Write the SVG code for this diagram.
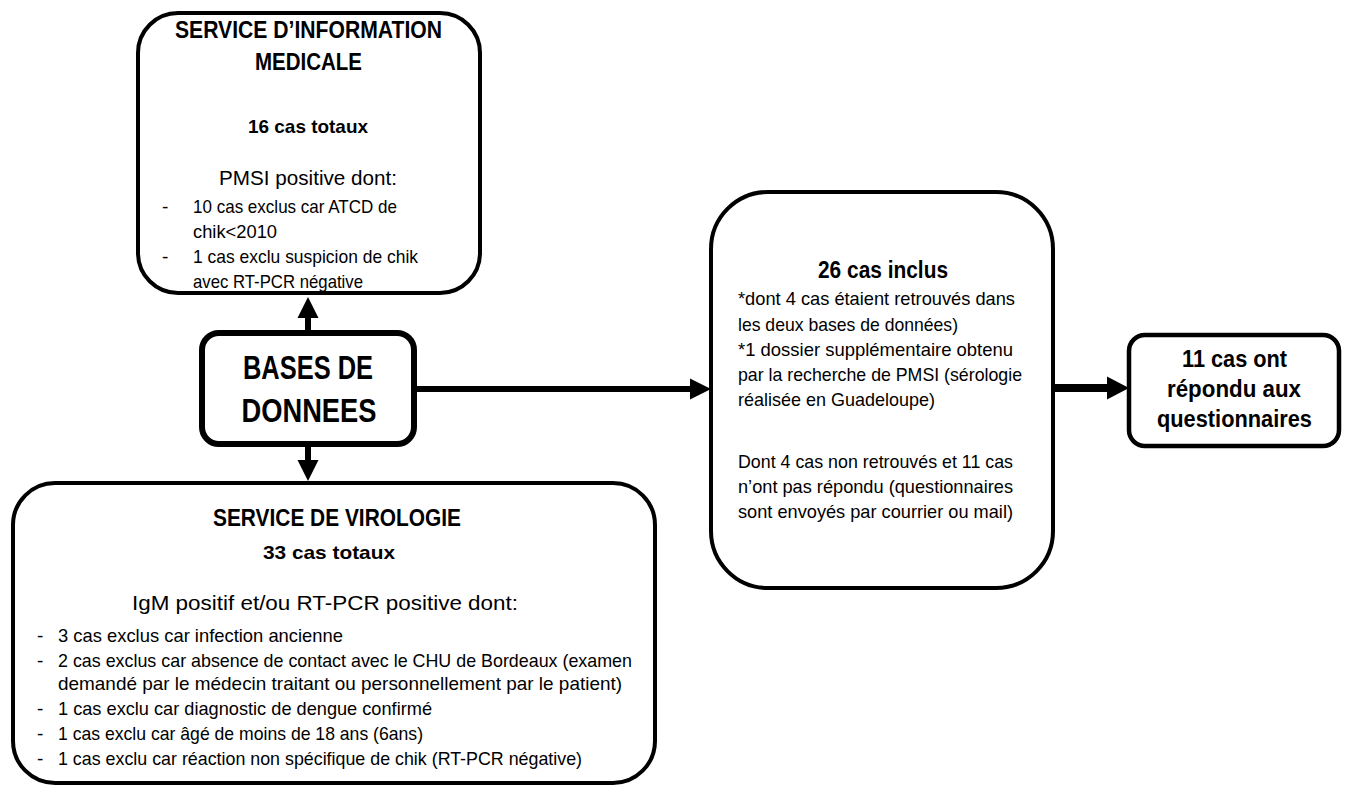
<svg xmlns="http://www.w3.org/2000/svg" width="1346" height="785" viewBox="0 0 1346 785">
<style>
  text { font-family: "Liberation Sans", Arial, sans-serif; fill: #000; }
  .c { text-anchor: middle; }
  .box { fill: #fff; stroke: #000; stroke-width: 4; }
  .thick { stroke-width: 6; }
  .body { font-size: 19px; }
  .lead { font-size: 21px; }
  .h { font-size: 23px; font-weight: bold; }
  .sub { font-size: 19px; font-weight: bold; }
  .big { font-size: 33px; font-weight: bold; }
  .conn { fill: none; stroke: #000; stroke-width: 6; }
</style>
<defs>
  <marker id="head" markerUnits="userSpaceOnUse" viewBox="0 -11 21 22" refX="0" refY="0" markerWidth="21" markerHeight="22" orient="auto">
    <path d="M0,-10.5 L21,0 L0,10.5 z" fill="#000"/>
  </marker>
  <marker id="headL" markerUnits="userSpaceOnUse" viewBox="0 -12 22 24" refX="0" refY="0" markerWidth="22" markerHeight="24" orient="auto">
    <path d="M0,-11.5 L22,0 L0,11.5 z" fill="#000"/>
  </marker>
</defs>

<rect width="1346" height="785" fill="#fff"/>

<g id="connectors">
  <path class="conn" d="M308,333 L308,318" marker-end="url(#head)"/>
  <path class="conn" d="M308,444 L308,460" marker-end="url(#head)"/>
  <path class="conn" d="M414,389 L690,389" marker-end="url(#head)"/>
  <path class="conn" style="stroke-width:8" d="M1053,388 L1107,388" marker-end="url(#headL)"/>
</g>

<g id="node-sim">
  <rect class="box" x="138" y="13" width="342" height="280" rx="40" ry="40"/>
  <text class="h c" x="308.5" y="38" textLength="267" lengthAdjust="spacingAndGlyphs">SERVICE D’INFORMATION</text>
  <text class="h c" x="308.5" y="70" textLength="107" lengthAdjust="spacingAndGlyphs">MEDICALE</text>
  <text class="sub c" x="308" y="133" textLength="120" lengthAdjust="spacingAndGlyphs">16 cas totaux</text>
  <text class="lead c" x="308" y="185" textLength="178" lengthAdjust="spacingAndGlyphs">PMSI positive dont:</text>
  <text class="body" x="162" y="213">-</text>
  <text class="body" x="193" y="213" textLength="204" lengthAdjust="spacingAndGlyphs">10 cas exclus car ATCD de</text>
  <text class="body" x="193" y="238" textLength="84" lengthAdjust="spacingAndGlyphs">chik&lt;2010</text>
  <text class="body" x="162" y="263">-</text>
  <text class="body" x="193" y="263" textLength="225" lengthAdjust="spacingAndGlyphs">1 cas exclu suspicion de chik</text>
  <text class="body" x="193" y="288" textLength="170" lengthAdjust="spacingAndGlyphs">avec RT-PCR négative</text>
</g>

<g id="node-bases">
  <rect class="box thick" x="202" y="333" width="212" height="111" rx="17" ry="17"/>
  <text class="big c" x="308" y="379" textLength="130" lengthAdjust="spacingAndGlyphs">BASES DE</text>
  <text class="big c" x="309" y="422" textLength="135" lengthAdjust="spacingAndGlyphs">DONNEES</text>
</g>

<g id="node-virologie">
  <rect class="box" x="13" y="483" width="642" height="300" rx="42" ry="42"/>
  <text class="h c" x="337" y="526" textLength="248" lengthAdjust="spacingAndGlyphs">SERVICE DE VIROLOGIE</text>
  <text class="sub c" x="329" y="559" textLength="132" lengthAdjust="spacingAndGlyphs">33 cas totaux</text>
  <text class="lead c" x="325" y="610" textLength="386" lengthAdjust="spacingAndGlyphs">IgM positif et/ou RT-PCR positive dont:</text>
  <text class="body" x="37" y="642">-</text>
  <text class="body" x="58" y="642" textLength="285" lengthAdjust="spacingAndGlyphs">3 cas exclus car infection ancienne</text>
  <text class="body" x="37" y="667">-</text>
  <text class="body" x="58" y="667" textLength="574" lengthAdjust="spacingAndGlyphs">2 cas exclus car absence de contact avec le CHU de Bordeaux (examen</text>
  <text class="body" x="58" y="690" textLength="564" lengthAdjust="spacingAndGlyphs">demandé par le médecin traitant ou personnellement par le patient)</text>
  <text class="body" x="37" y="715">-</text>
  <text class="body" x="58" y="715" textLength="374" lengthAdjust="spacingAndGlyphs">1 cas exclu car diagnostic de dengue confirmé</text>
  <text class="body" x="37" y="740">-</text>
  <text class="body" x="58" y="740" textLength="365" lengthAdjust="spacingAndGlyphs">1 cas exclu car âgé de moins de 18 ans (6ans)</text>
  <text class="body" x="37" y="765">-</text>
  <text class="body" x="58" y="765" textLength="524" lengthAdjust="spacingAndGlyphs">1 cas exclu car réaction non spécifique de chik (RT-PCR négative)</text>
</g>

<g id="node-inclus">
  <rect class="box" x="711" y="192" width="342" height="396" rx="57" ry="57"/>
  <text class="h c" x="883" y="278" textLength="130" lengthAdjust="spacingAndGlyphs">26 cas inclus</text>
  <text class="body" x="738" y="305" textLength="277" lengthAdjust="spacingAndGlyphs">*dont 4 cas étaient retrouvés dans</text>
  <text class="body" x="738" y="331" textLength="220" lengthAdjust="spacingAndGlyphs">les deux bases de données)</text>
  <text class="body" x="738" y="356" textLength="275" lengthAdjust="spacingAndGlyphs">*1 dossier supplémentaire obtenu</text>
  <text class="body" x="738" y="381" textLength="284" lengthAdjust="spacingAndGlyphs">par la recherche de PMSI (sérologie</text>
  <text class="body" x="738" y="406" textLength="197" lengthAdjust="spacingAndGlyphs">réalisée en Guadeloupe)</text>
  <text class="body" x="738" y="468" textLength="275" lengthAdjust="spacingAndGlyphs">Dont 4 cas non retrouvés et 11 cas</text>
  <text class="body" x="738" y="493" textLength="275" lengthAdjust="spacingAndGlyphs">n’ont pas répondu (questionnaires</text>
  <text class="body" x="738" y="518" textLength="275" lengthAdjust="spacingAndGlyphs">sont envoyés par courrier ou mail)</text>
</g>

<g id="node-reponses">
  <rect class="box" style="stroke-width:4.5" x="1129" y="335" width="210" height="111" rx="16" ry="16"/>
  <text class="h c" x="1234.5" y="367" textLength="105" lengthAdjust="spacingAndGlyphs">11 cas ont</text>
  <text class="h c" x="1234" y="397" textLength="134" lengthAdjust="spacingAndGlyphs">répondu aux</text>
  <text class="h c" x="1234.5" y="427" textLength="155" lengthAdjust="spacingAndGlyphs">questionnaires</text>
</g>
</svg>
